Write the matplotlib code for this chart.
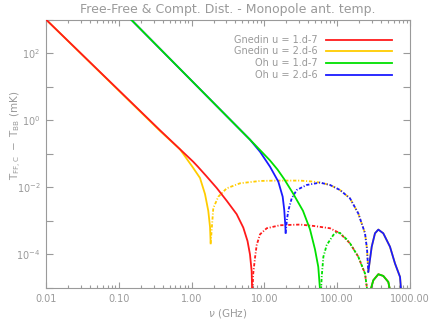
import numpy as np
import matplotlib
matplotlib.use("Agg")
import matplotlib.pyplot as plt
from matplotlib.ticker import FixedLocator, NullFormatter, FuncFormatter

# ---- data (log10 of nu [GHz], log10 of |T_FF,C - T_BB| [mK]) ----
# Gnedin u = 1.d-7 (red)
red_pos_lognu = [-2.0, -0.434, 0.023, 0.084, 0.2, 0.345, 0.482, 0.619, 0.710, 0.768, 0.802, 0.825, 0.834]
red_pos_logT = [3.0, -0.30, -1.24, -1.38, -1.66, -2.02, -2.40, -2.80, -3.2, -3.6, -4.0, -4.5, -5.3]
red_neg_lognu = [0.834, 0.845, 0.871, 0.894, 0.940, 1.032, 1.214, 1.489, 1.672, 1.901, 2.038, 2.176, 2.290, 2.382, 2.427]
red_neg_logT = [-5.3, -4.6, -4.1, -3.72, -3.4, -3.22, -3.13, -3.11, -3.15, -3.22, -3.37, -3.67, -4.07, -4.57, -5.3]
red_hi_lognu = [2.427, 2.496, 2.565, 2.633, 2.702, 2.748]
red_hi_logT = [-5.3, -4.77, -4.59, -4.64, -4.82, -5.3]

# Gnedin u = 2.d-6 (yellow)
yel_pos_lognu = [-2.0, -0.434, -0.159, 0.015, 0.115, 0.184, 0.229, 0.253, 0.262]
yel_pos_logT = [3.0, -0.32, -0.87, -1.40, -1.72, -2.2, -2.7, -3.18, -3.67]
yel_neg_lognu = [0.262, 0.298, 0.367, 0.482, 0.665, 0.940, 1.169, 1.489, 1.672, 1.764, 1.901, 2.038, 2.176, 2.290, 2.382, 2.41, 2.427]
yel_neg_logT = [-3.67, -2.62, -2.28, -2.03, -1.88, -1.81, -1.80, -1.80, -1.83, -1.86, -1.93, -2.08, -2.33, -2.78, -3.37, -3.85, -4.52]
yel_hi_lognu = [2.427, 2.474, 2.519, 2.565, 2.633, 2.725, 2.794, 2.863, 2.886]
yel_hi_logT = [-4.52, -3.77, -3.37, -3.26, -3.37, -3.77, -4.27, -4.67, -5.3]

# Oh u = 1.d-7 (green)
grn_pos_lognu = [-0.832, 0.802, 0.940, 1.077, 1.18, 1.27, 1.393, 1.530, 1.626, 1.695, 1.740, 1.773]
grn_pos_logT = [3.0, -0.58, -0.89, -1.20, -1.47, -1.75, -2.18, -2.70, -3.25, -3.85, -4.37, -5.3]
grn_neg_lognu = [1.773, 1.787, 1.810, 1.856, 1.947, 1.99, 2.038, 2.130, 2.176, 2.290, 2.382, 2.427]
grn_neg_logT = [-5.3, -4.67, -4.07, -3.72, -3.42, -3.34, -3.36, -3.55, -3.67, -4.07, -4.57, -5.3]
grn_hi_lognu = [2.427, 2.496, 2.565, 2.633, 2.702, 2.748]
grn_hi_logT = [-5.3, -4.77, -4.59, -4.64, -4.82, -5.3]

# Oh u = 2.d-6 (blue)
blu_pos_lognu = [-0.832, 0.802, 0.940, 1.077, 1.191, 1.251, 1.273, 1.287, 1.292]
blu_pos_logT = [3.0, -0.58, -0.94, -1.385, -1.83, -2.28, -2.68, -3.13, -3.36]
blu_neg_lognu = [1.292, 1.310, 1.330, 1.375, 1.444, 1.581, 1.764, 1.901, 2.038, 2.176, 2.290, 2.382, 2.41, 2.427]
blu_neg_logT = [-3.36, -2.95, -2.68, -2.33, -2.08, -1.93, -1.86, -1.93, -2.08, -2.33, -2.78, -3.37, -3.85, -4.52]
blu_hi_lognu = [2.427, 2.474, 2.519, 2.565, 2.633, 2.725, 2.794, 2.863, 2.886]
blu_hi_logT = [-4.52, -3.77, -3.37, -3.26, -3.37, -3.77, -4.27, -4.67, -5.3]

series_labels = ["Gnedin u = 1.d-7", "Gnedin u = 2.d-6", "Oh u = 1.d-7", "Oh u = 2.d-6"]
series_colors = ["#ff1a1a", "#ffcc00", "#00e000", "#1a1aff"]

x_tick_vals = [0.01, 0.1, 1, 10, 100, 1000]
x_tick_labels = ["0.01", "0.10", "1.00", "10.00", "100.00", "1000.00"]
y_label_exps = [2, 0, -2, -4]
y_all_exps = [-5, -4, -3, -2, -1, 0, 1, 2, 3]

title = "Free-Free & Compt. Dist. - Monopole ant. temp."

# ---- figure ----
GRAY = "#9a9a9a"
fig = plt.figure(figsize=(4.36, 3.22), dpi=100)
ax = fig.add_axes([46/436, 1 - 288/322, 364/436, 268.5/322])
ax.set_xscale("log")
ax.set_yscale("log")
ax.set_xlim(0.01, 1000)
ax.set_ylim(1e-5, 1e3)

LW = 1.3
DASH = (0, (1.8, 1.0, 0.6, 1.0))

def P(a):
    return np.power(10.0, np.asarray(a, dtype=float))

groups = [
    (red_pos_lognu, red_pos_logT, red_neg_lognu, red_neg_logT, red_hi_lognu, red_hi_logT),
    (yel_pos_lognu, yel_pos_logT, yel_neg_lognu, yel_neg_logT, yel_hi_lognu, yel_hi_logT),
    (grn_pos_lognu, grn_pos_logT, grn_neg_lognu, grn_neg_logT, grn_hi_lognu, grn_hi_logT),
    (blu_pos_lognu, blu_pos_logT, blu_neg_lognu, blu_neg_logT, blu_hi_lognu, blu_hi_logT),
]
# drawing order: yellow, red, blue, green (as in the reference overlaps)
zorders = [3, 2, 5, 4]
for (pn, pt, nn, nt, hn, ht), c, z in zip(groups, series_colors, zorders):
    ax.plot(P(pn), P(pt), color=c, lw=LW, solid_joinstyle="round", zorder=z)
    ax.plot(P(nn), P(nt), color=c, lw=LW, linestyle=DASH, zorder=z)
    ax.plot(P(hn), P(ht), color=c, lw=LW, solid_joinstyle="round", zorder=z)

# axes styling
for s in ax.spines.values():
    s.set_color(GRAY)
    s.set_linewidth(0.8)

ax.xaxis.set_major_locator(FixedLocator(x_tick_vals))
ax.set_xticklabels(x_tick_labels)
ax.xaxis.set_minor_locator(FixedLocator([m * d for d in [0.01, 0.1, 1, 10, 100] for m in range(2, 10)]))
ax.xaxis.set_minor_formatter(NullFormatter())

ax.yaxis.set_major_locator(FixedLocator([10.0**e for e in y_label_exps]))
ax.yaxis.set_major_formatter(FuncFormatter(lambda v, p: r"$\mathregular{10^{%d}}$" % round(np.log10(v))))
ax.yaxis.set_minor_locator(FixedLocator([10.0**e for e in y_all_exps if e not in y_label_exps]))
ax.yaxis.set_minor_formatter(NullFormatter())

ax.tick_params(axis="x", which="major", direction="in", length=4, width=0.8, color=GRAY,
               top=True, bottom=True, labelsize=7, labelcolor=GRAY, pad=4)
ax.tick_params(axis="x", which="minor", direction="in", length=2.2, width=0.8, color=GRAY,
               top=True, bottom=True)
ax.tick_params(axis="y", which="both", direction="in", length=5, width=0.8, color=GRAY,
               left=True, right=True, labelsize=7, labelcolor=GRAY, pad=4)

# legend drawn by hand (right-aligned text, line sample to the right)
leg_y = [0.924, 0.883, 0.838, 0.793]
for lab, c, yy in zip(series_labels, series_colors, leg_y):
    ax.text(0.747, yy, lab, transform=ax.transAxes, ha="right", va="center",
            fontsize=7, color=GRAY)
    ax.plot([0.769, 0.951], [yy, yy], transform=ax.transAxes, color=c, lw=LW)

fig.text(228/436, 1 - 10/322, title, ha="center", va="center", fontsize=9, color=GRAY)
fig.text(228/436, 1 - 313/322, r"$\nu$ (GHz)", ha="center", va="center", fontsize=7.5, color=GRAY)
fig.text(16/436, 1 - 135/322, r"$\mathregular{T_{FF,C}\ -\ T_{BB}\ (mK)}$", rotation=90,
         ha="center", va="center", fontsize=7.5, color=GRAY)

fig.savefig("out.png", dpi=100)
